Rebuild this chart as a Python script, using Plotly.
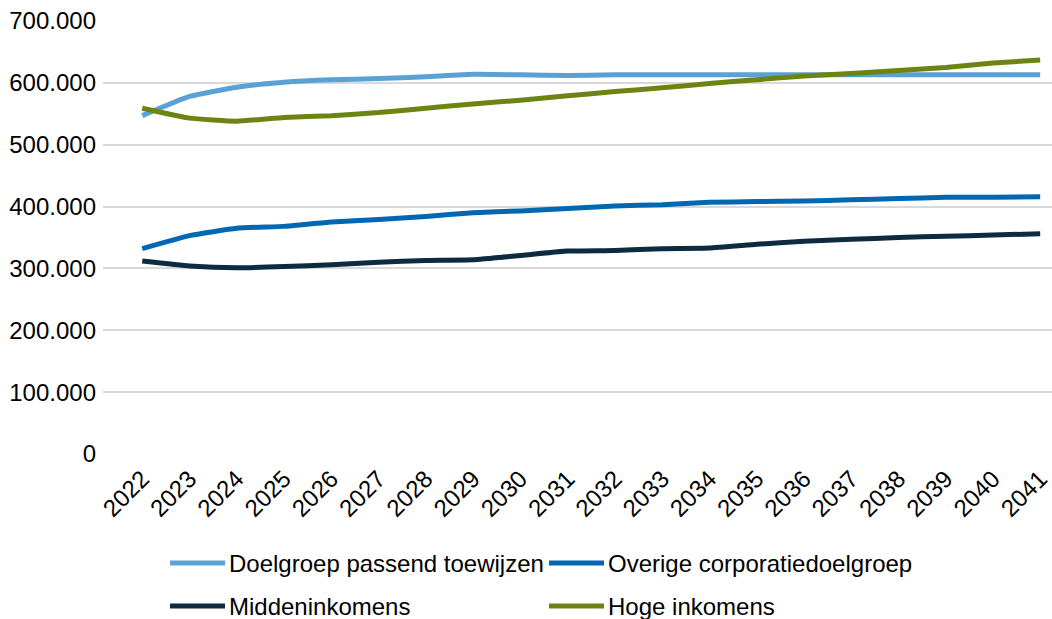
import plotly.graph_objects as go

years = list(range(2022, 2042))

doelgroep_passend = [547000, 578000, 593000, 601000, 605000, 607000, 610000, 614000, 613000, 612000,
                     613000, 613000, 613000, 613000, 613000, 613000, 613000, 613000, 613000, 613000]
overige_corporatie = [332000, 353000, 365000, 368000, 375000, 379000, 384000, 390000, 393000, 397000,
                      401000, 403000, 407000, 408000, 409000, 411000, 413000, 415000, 415000, 416000]
middeninkomens = [312000, 304000, 301000, 303000, 306000, 310000, 313000, 314000, 321000, 328000,
                  329000, 332000, 333000, 339000, 344000, 347000, 350000, 352000, 354000, 356000]
hoge_inkomens = [559000, 543000, 538000, 544000, 547000, 552000, 559000, 566000, 572000, 579000,
                 586000, 592000, 599000, 605000, 611000, 615000, 620000, 625000, 632000, 637000]

series_names = ["Doelgroep passend toewijzen", "Overige corporatiedoelgroep",
                "Middeninkomens", "Hoge inkomens"]
series_values = [doelgroep_passend, overige_corporatie, middeninkomens, hoge_inkomens]
series_colors = ["#5AA2D5", "#0068B2", "#0C2A40", "#6C8512"]

FONT = "Liberation Sans, Arial, sans-serif"
FS = 24

W, H = 1052, 619
ML, MR, MT, MB = 103, 0, 21, 165
plot_w = W - ML - MR
plot_h = H - MT - MB


def px_to_paper_x(px):
    return (px - ML) / plot_w


def px_to_paper_y(py):
    return (H - MB - py) / plot_h


fig = go.Figure()
for name, vals, color in zip(series_names, series_values, series_colors):
    fig.add_trace(go.Scatter(
        x=years, y=vals, name=name, mode="lines",
        line=dict(color=color, width=5, shape="spline", smoothing=0.4),
        showlegend=False,
    ))

# Legend laid out as a 2x2 grid below the chart: long line samples with text
legend_cols = [170, 549]
legend_rows = [563, 606]
sample_len = 55
shapes, annotations = [], []
for i, (name, color) in enumerate(zip(series_names, series_colors)):
    x0 = legend_cols[i % 2]
    y = legend_rows[i // 2]
    shapes.append(dict(
        type="line", xref="paper", yref="paper",
        x0=px_to_paper_x(x0), x1=px_to_paper_x(x0 + sample_len),
        y0=px_to_paper_y(y), y1=px_to_paper_y(y),
        line=dict(color=color, width=5), layer="above",
    ))
    annotations.append(dict(
        xref="paper", yref="paper",
        x=px_to_paper_x(x0 + sample_len + 2), y=px_to_paper_y(y),
        xanchor="left", yanchor="middle", showarrow=False,
        text=name, font=dict(family=FONT, size=FS, color="#000000"),
    ))

fig.update_layout(
    width=W, height=H,
    margin=dict(l=ML, r=MR, t=MT, b=MB),
    paper_bgcolor="white", plot_bgcolor="white",
    separators=",.",
    font=dict(family=FONT, size=FS, color="#000000"),
    showlegend=False,
    shapes=shapes, annotations=annotations,
    xaxis=dict(
        range=[2021.17, 2041.25], tickmode="array", tickvals=years,
        ticktext=[str(y) for y in years], tickangle=-45,
        showgrid=False, zeroline=False, showline=False, ticks="",
        ticklabeloverflow="allow", ticklabelstandoff=5,
        tickfont=dict(family=FONT, size=FS, color="#000000"),
    ),
    yaxis=dict(
        range=[0, 700000], tickvals=[0, 100000, 200000, 300000, 400000, 500000, 600000, 700000],
        tickformat=",.0f", showgrid=True, gridcolor="#D9D9D9", gridwidth=1.5,
        zeroline=False, showline=False, ticks="", ticklabelstandoff=6,
        tickfont=dict(family=FONT, size=FS, color="#000000"),
    ),
)

fig.write_html("out.html")
